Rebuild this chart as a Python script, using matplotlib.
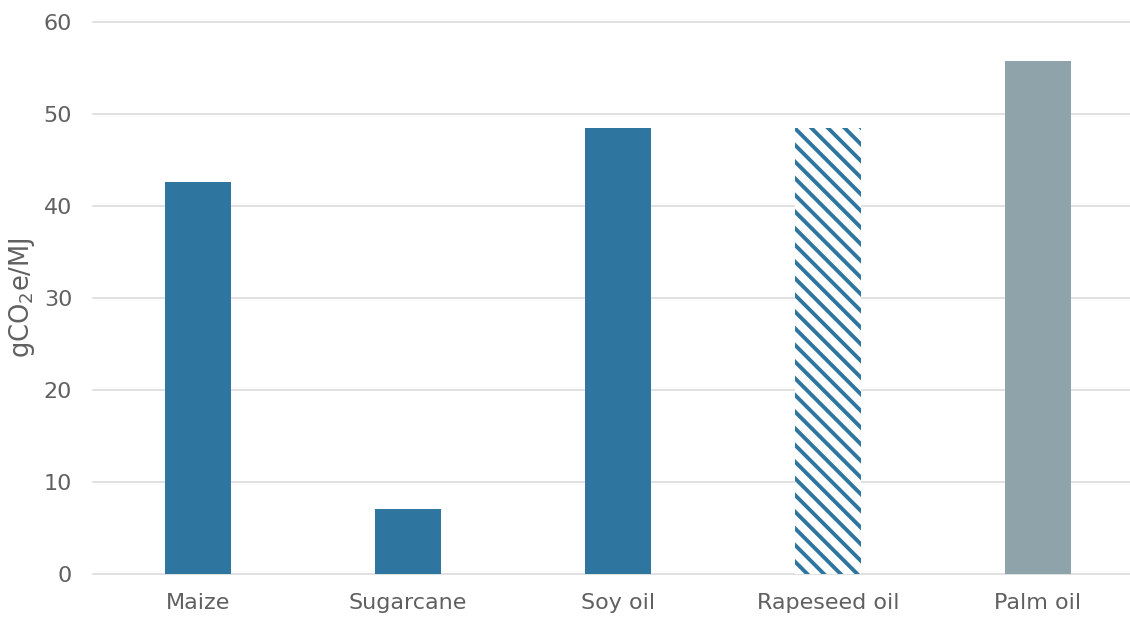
import numpy as np
import matplotlib.pyplot as plt

# emission intensity by feedstock
crops = ['Maize', 'Sugarcane', 'Soy oil', 'Rapeseed oil', 'Palm oil']
values = [42.6, 7.1, 48.5, 48.5, 55.8]
fills = ['#2E76A0', '#2E76A0', '#2E76A0', 'hatch', '#8FA3AB']

plt.rcParams['font.family'] = ['DejaVu Sans']
plt.rcParams['hatch.linewidth'] = 2.8
text_col = '#606060'
blue = '#2E76A0'

fig = plt.figure(figsize=(11.3, 6.17), dpi=100)
ax = fig.add_axes([93/1130, 43/617, 1037/1130, 552/617])

x = np.arange(len(crops))
for xi, v, f in zip(x, values, fills):
    if f == 'hatch':
        ax.bar(xi, v, width=0.31, facecolor='white', edgecolor=blue,
               linewidth=0, hatch='\\\\', zorder=2)
    else:
        ax.bar(xi, v, width=0.31, color=f, linewidth=0, zorder=2)

ax.set_xlim(-0.5, 4.438)
ax.set_ylim(0, 60)
ax.set_yticks(np.arange(0, 61, 10))
ax.set_xticks(x)
ax.set_xticklabels(crops)
ax.grid(axis='y', color='#D9D9D9', linewidth=1.1, zorder=0)
for gl in ax.get_ygridlines():
    gl.set_clip_on(False)
ax.set_axisbelow(True)
for s in ax.spines.values():
    s.set_visible(False)
ax.tick_params(length=0, labelsize=16, labelcolor=text_col)
ax.tick_params(axis='x', pad=14)
ax.tick_params(axis='y', pad=15)
ax.set_ylabel(r'gCO$_\mathregular{2}$e/MJ', fontsize=18.5, color=text_col, labelpad=5)

fig.savefig('out.png', dpi=100)
